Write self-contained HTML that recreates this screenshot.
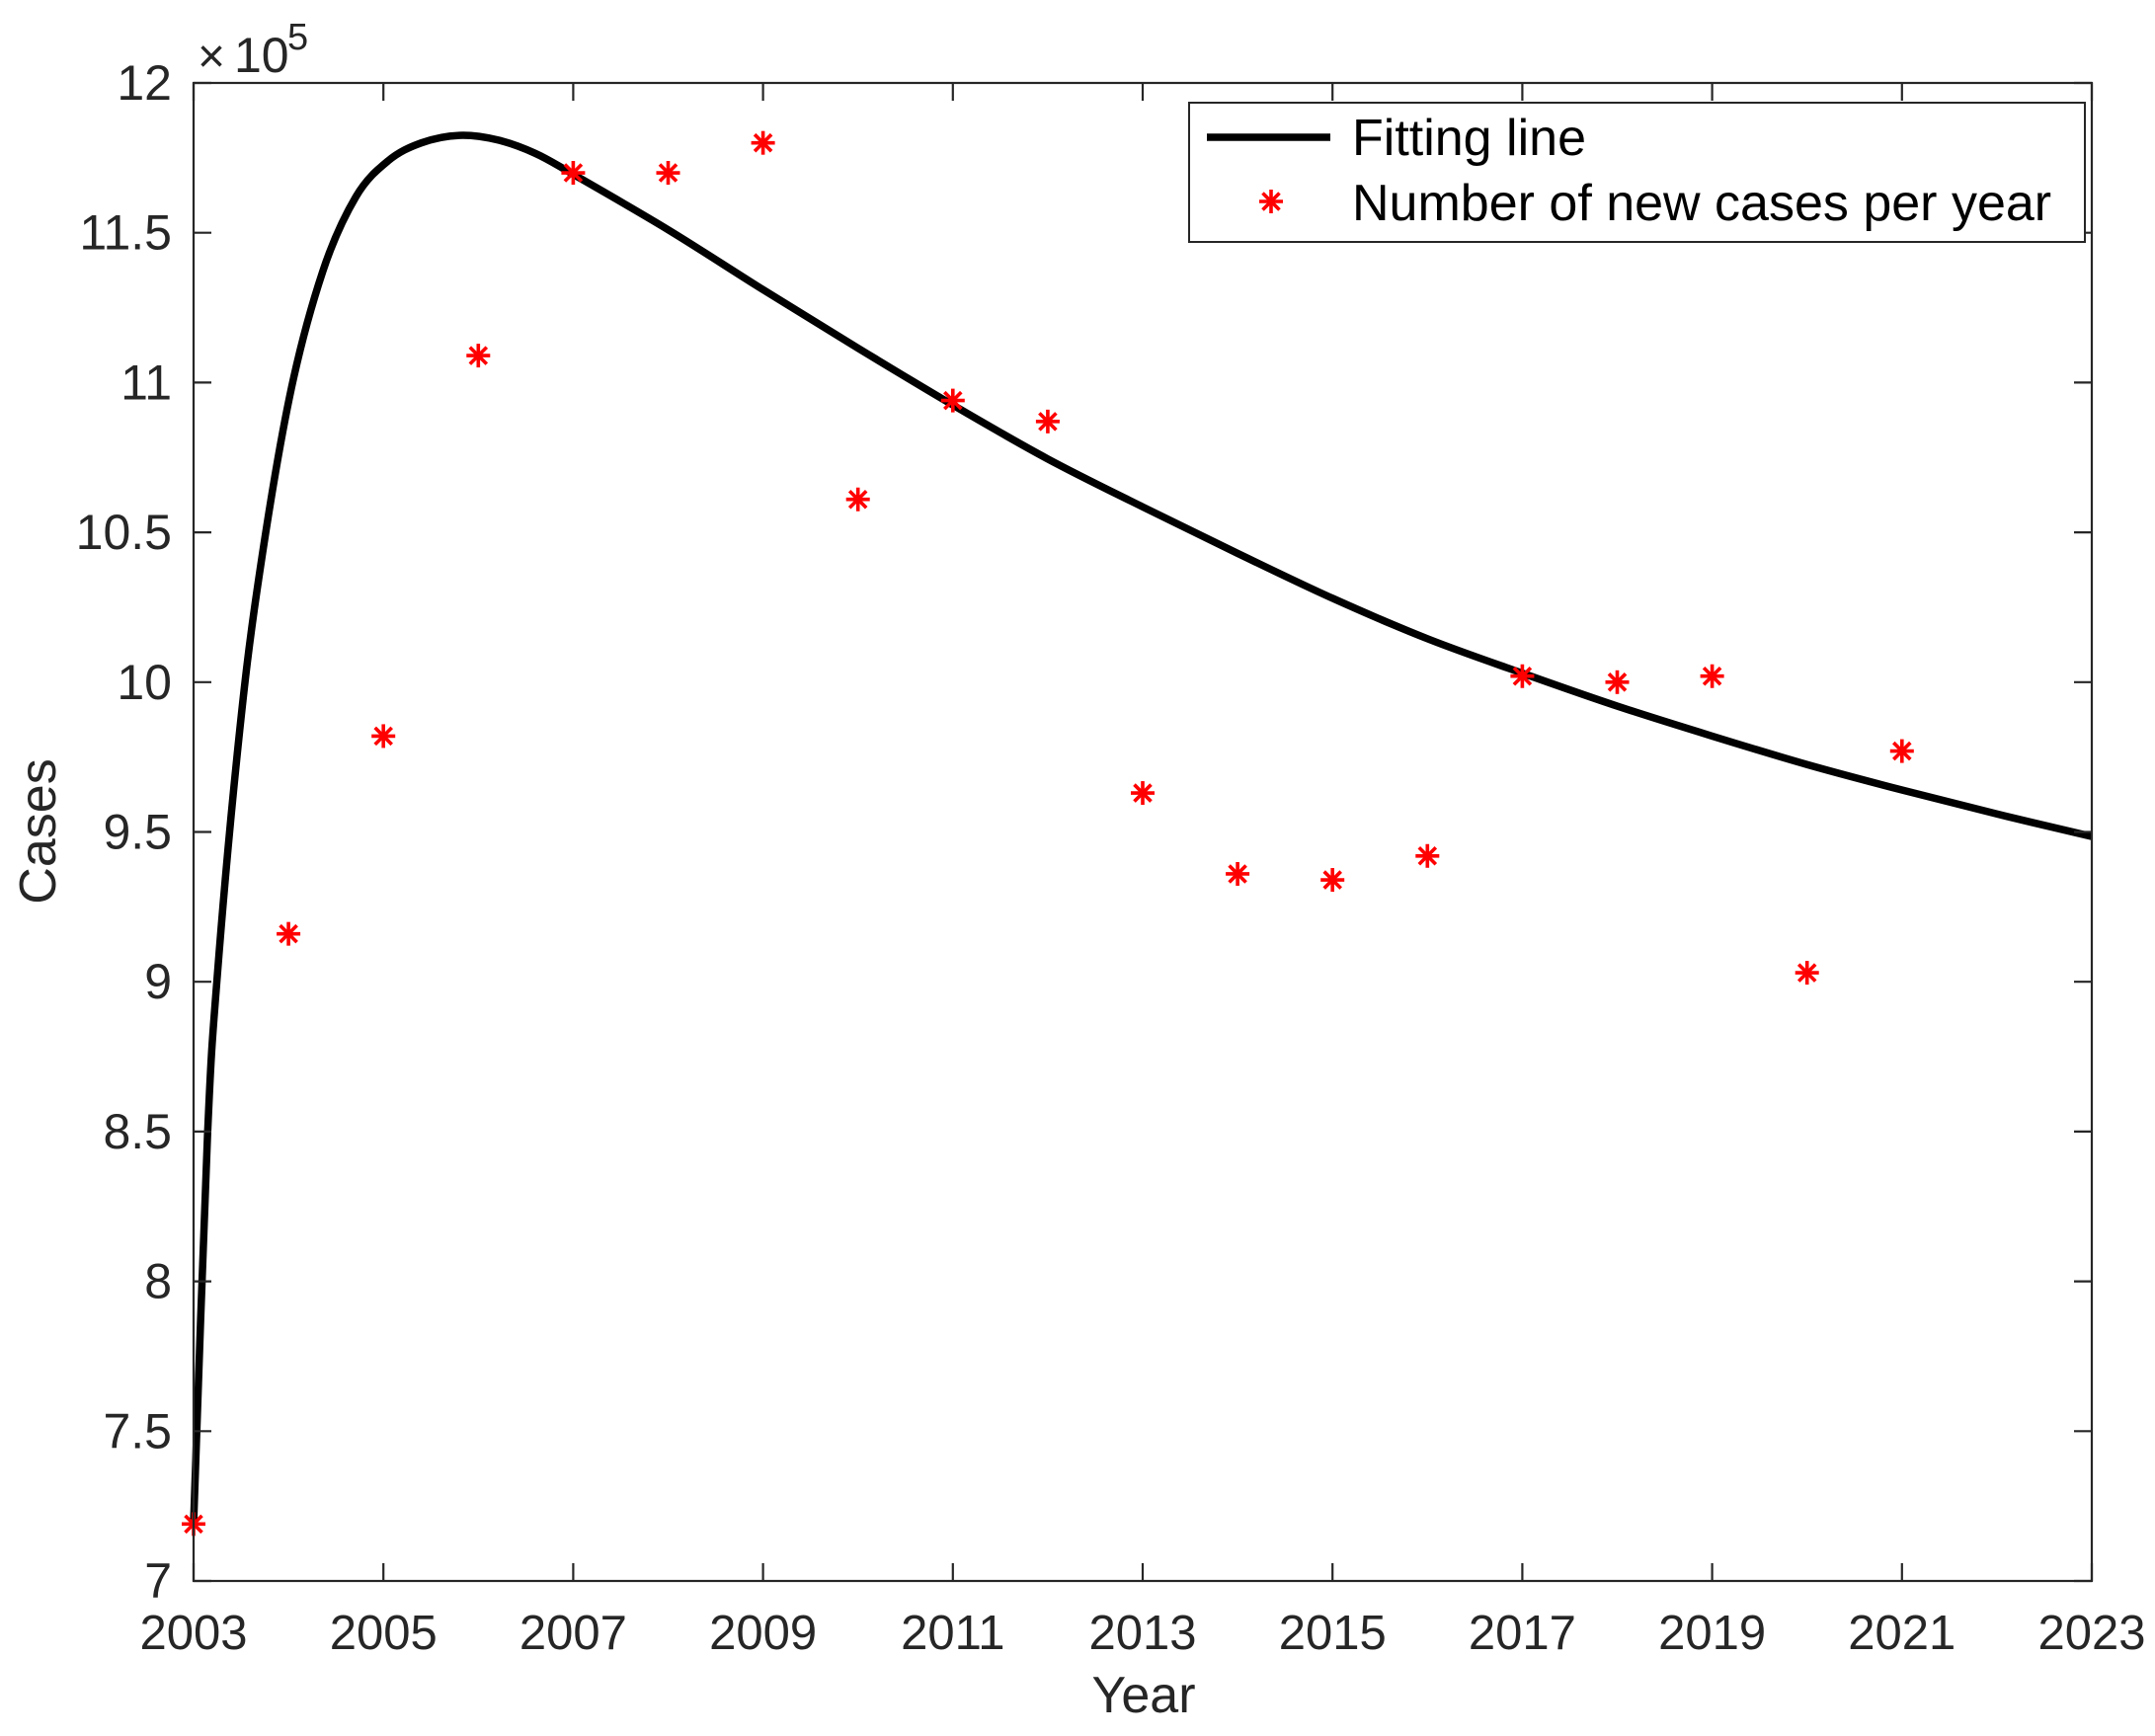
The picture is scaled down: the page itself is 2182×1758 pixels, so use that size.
<!DOCTYPE html>
<html><head><meta charset="utf-8"><style>
html,body{margin:0;padding:0;background:#fff;}
svg{display:block;font-family:"Liberation Sans",Arial,sans-serif;}
</style></head><body>
<svg id="chart" width="2182" height="1758" viewBox="0 0 2182 1758">
<rect width="2182" height="1758" fill="#fff"/>
<g id="curve"></g>
<g id="marks"></g>
<g id="axes"></g>
</svg>
<script>
const years=[2003,2004,2005,2006,2007,2008,2009,2010,2011,2012,2013,2014,2015,2016,2017,2018,2019,2020,2021];
const cases=[7.19,9.16,9.82,11.09,11.70,11.70,11.80,10.61,10.94,10.87,9.63,9.36,9.34,9.42,10.02,10.00,10.02,9.03,9.77];
const fitX=[2003,2003.146,2003.25,2003.46,2003.67,2004.01,2004.36,2004.71,2005.05,2005.4,2005.8,2006.2,2006.6,2007,2008,2009,2010,2011,2012,2013,2014,2015,2016,2017,2018,2019,2020,2021,2022,2023];
const fitY=[7.19,8.48,9.02,9.76,10.31,10.95,11.37,11.62,11.74,11.80,11.825,11.81,11.765,11.695,11.51,11.31,11.115,10.925,10.745,10.585,10.43,10.28,10.145,10.03,9.92,9.82,9.725,9.64,9.56,9.485];
const xTicks=[2003,2005,2007,2009,2011,2013,2015,2017,2019,2021,2023];
const yTicks=[7,7.5,8,8.5,9,9.5,10,10.5,11,11.5,12];
const yTickLabels=["7","7.5","8","8.5","9","9.5","10","10.5","11","11.5","12"];

const L=196,R=2118,T=84,B=1601;
const X=v=>L+(v-2003)/(2023-2003)*(R-L);
const Y=v=>B-(v-7)/(12-7)*(B-T);
const NS="http://www.w3.org/2000/svg";
function mk(tag,attrs,parent){const e=document.createElementNS(NS,tag);for(const k in attrs)e.setAttribute(k,attrs[k]);parent.appendChild(e);return e;}
const curveG=document.getElementById('curve'),marksG=document.getElementById('marks'),axesG=document.getElementById('axes');

const pts=fitX.map((x,i)=>[X(x),Y(fitY[i])]);
let d=`M${pts[0][0]},${pts[0][1]}`;
for(let i=0;i<pts.length-1;i++){
  const p0=pts[Math.max(i-1,0)],p1=pts[i],p2=pts[i+1],p3=pts[Math.min(i+2,pts.length-1)];
  const c1=[p1[0]+(p2[0]-p0[0])/6,p1[1]+(p2[1]-p0[1])/6];
  const c2=[p2[0]-(p3[0]-p1[0])/6,p2[1]-(p3[1]-p1[1])/6];
  d+=` C${c1[0]},${c1[1]} ${c2[0]},${c2[1]} ${p2[0]},${p2[1]}`;
}
const cp=mk('path',{d:d,fill:'none',stroke:'#000','stroke-width':7.5,'stroke-linejoin':'round'},curveG);



function star(cx,cy,parent,name){
  const g=mk('g',{stroke:'#ff0000','stroke-width':3.6,fill:'none'},parent);
  
  
  const r=12,q=8.5;
  mk('line',{x1:cx-r,y1:cy,x2:cx+r,y2:cy},g);
  mk('line',{x1:cx,y1:cy-r,x2:cx,y2:cy+r},g);
  mk('line',{x1:cx-q,y1:cy-q,x2:cx+q,y2:cy+q},g);
  mk('line',{x1:cx-q,y1:cy+q,x2:cx+q,y2:cy-q},g);
}
years.forEach((yr,i)=>star(X(yr),Y(cases[i]),marksG,'point-'+yr));

const box=mk('rect',{x:L,y:T,width:R-L,height:B-T,fill:'none',stroke:'#262626','stroke-width':2.2},axesG);


const tl=18;
xTicks.forEach(v=>{
  const x=X(v);
  mk('line',{x1:x,y1:B,x2:x,y2:B-tl,stroke:'#262626','stroke-width':2.2},axesG);
  mk('line',{x1:x,y1:T,x2:x,y2:T+tl,stroke:'#262626','stroke-width':2.2},axesG);
  const t=mk('text',{x:x,y:1670,'text-anchor':'middle','font-size':49,fill:'#262626'},axesG);
  t.textContent=v;
  
  
});
yTicks.forEach((v,i)=>{
  const y=Y(v);
  mk('line',{x1:L,y1:y,x2:L+tl,y2:y,stroke:'#262626','stroke-width':2.2},axesG);
  mk('line',{x1:R,y1:y,x2:R-tl,y2:y,stroke:'#262626','stroke-width':2.2},axesG);
  const t=mk('text',{x:174,y:y+17,'text-anchor':'end','font-size':50,fill:'#262626'},axesG);
  t.textContent=yTickLabels[i];
  
  
});
</script>
<svg style="position:absolute;left:0;top:0" width="2182" height="1758">
<g font-family="Liberation Sans, Arial, sans-serif" fill="#262626">
<text x="200" y="73" font-size="48">×</text>
<text x="237" y="73" font-size="50">10</text>
<text x="291" y="50" font-size="38">5</text>
<text x="1158" y="1734" font-size="52" text-anchor="middle">Year</text>
<text transform="translate(56,842) rotate(-90)" font-size="52" text-anchor="middle">Cases</text>
</g>
<g>
<rect x="1204" y="104" width="907" height="141" fill="#fff" stroke="#262626" stroke-width="2"/>
<line x1="1222" y1="139" x2="1347" y2="139" stroke="#000" stroke-width="7.5"/>
<text x="1369" y="157" font-size="52" fill="#000" font-family="Liberation Sans, Arial, sans-serif">Fitting line</text>
<g stroke="#ff0000" stroke-width="3.6">
<line x1="1275" y1="204" x2="1299" y2="204"/><line x1="1287" y1="192" x2="1287" y2="216"/>
<line x1="1278.5" y1="195.5" x2="1295.5" y2="212.5"/><line x1="1278.5" y1="212.5" x2="1295.5" y2="195.5"/>
</g>
<text x="1369" y="223" font-size="52" fill="#000" font-family="Liberation Sans, Arial, sans-serif">Number of new cases per year</text>
</g>
</svg>
</body></html>
